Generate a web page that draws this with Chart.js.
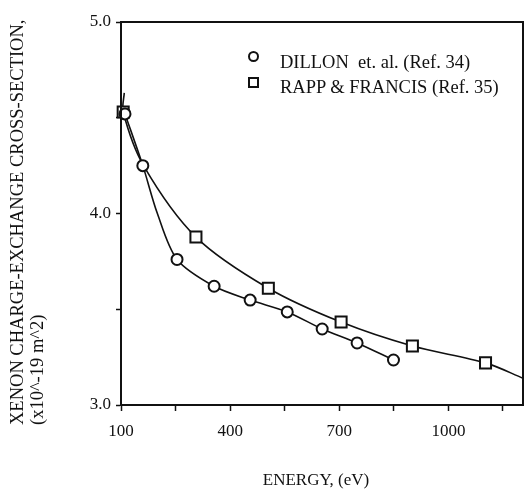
<!DOCTYPE html>
<html>
<head>
<meta charset="utf-8">
<script src="https://cdn.jsdelivr.net/npm/chart.js@4"></script>
<style>
  html, body { margin:0; padding:0; background:#fff; }
  #wrap { position:relative; width:527px; height:492px; }
  canvas { position:absolute; left:0; top:0; }
  .txt { position:absolute; font-family:"Liberation Serif", "DejaVu Serif", serif; color:#111; white-space:nowrap; }
  #ytitle { left:7px; top:425px; font-size:18.5px; line-height:20px; transform-origin:left top; transform:rotate(-90deg); }
  #xtitle { left:316px; top:470px; font-size:17px; line-height:20px; transform:translateX(-50%); }
  .leg { font-size:18.5px; line-height:20px; left:280px; }
  .mk { position:absolute; box-sizing:border-box; border:2px solid #111; width:11px; height:11px; }
</style>
</head>
<body>
<div id="wrap">
  <canvas id="c" width="527" height="492"></canvas>
  <div class="txt" id="ytitle">XENON CHARGE-EXCHANGE CROSS-SECTION,<br>(x10^-19 m^2)</div>
  <div class="txt" id="xtitle">ENERGY, (eV)</div>
  <div class="mk" style="left:248px;top:51px;border-radius:50%;"></div>
  <div class="mk" style="left:248px;top:76.5px;"></div>
  <div class="txt leg" style="top:52px;">DILLON&nbsp; et. al. (Ref. 34)</div>
  <div class="txt leg" style="top:77px;">RAPP &amp; FRANCIS (Ref. 35)</div>
</div>
<script>
// Measured points (energy in eV, cross-section in 1e-19 m^2)
const dillonEnergy = [111, 160, 254, 356, 455, 557, 653, 749, 849];
const dillonSigma  = [4.52, 4.25, 3.76, 3.62, 3.548, 3.486, 3.397, 3.324, 3.235];
const rappEnergy   = [106, 306, 505, 705, 901, 1102];
const rappSigma    = [4.53, 3.877, 3.61, 3.433, 3.308, 3.22];

// Fitted curves
const dillonFitEnergy = [111, 160, 200, 254, 356, 455, 557, 653, 749, 849];
const dillonFitSigma  = [4.52, 4.25, 4.0, 3.76, 3.62, 3.548, 3.486, 3.397, 3.324, 3.235];
const rappFitEnergy   = [109, 106, 162, 306, 505, 705, 901, 1102, 1205];
const rappFitSigma    = [4.63, 4.53, 4.25, 3.877, 3.61, 3.433, 3.308, 3.22, 3.14];

// Axis ticks
const xTickValues = [100, 250, 400, 550, 700, 850, 1000, 1150];
const xTickLabels = ['100', '', '400', '', '700', '', '1000', ''];
const yTickValues = [3.0, 3.5, 4.0, 4.5, 5.0];
const yTickLabels = ['3.0', '', '4.0', '', '5.0'];
const xMin = 100, xMax = 1205, yMin = 3.0, yMax = 5.0;

const pts = (xs, ys) => xs.map((x, i) => ({x, y: ys[i]}));
const ink = '#111';
const font = {family: '"Liberation Serif", "DejaVu Serif", serif', size: 17};

const frame = {
  id: 'frame',
  afterDatasetsDraw(chart) {
    const a = chart.chartArea, ctx = chart.ctx;
    ctx.save();
    ctx.strokeStyle = ink; ctx.lineWidth = 2;
    ctx.strokeRect(a.left, a.top, a.right - a.left, a.bottom - a.top);
    ctx.restore();
  }
};

new Chart(document.getElementById('c'), {
  type: 'scatter',
  data: {
    datasets: [
      {label: 'DILLON et. al. (Ref. 34)', data: pts(dillonEnergy, dillonSigma), pointStyle: 'circle',
       pointRadius: 5.5, pointBorderWidth: 2, pointBackgroundColor: '#fff', pointBorderColor: ink, showLine: false},
      {label: 'RAPP & FRANCIS (Ref. 35)', data: pts(rappEnergy, rappSigma), pointStyle: 'rect',
       pointRadius: 7.8, pointBorderWidth: 2, pointBackgroundColor: '#fff', pointBorderColor: ink, showLine: false},
      {label: 'fitD', data: pts(dillonFitEnergy, dillonFitSigma), showLine: true, pointRadius: 0,
       borderColor: ink, borderWidth: 1.6, tension: 0.3, fill: false},
      {label: 'fitR', data: pts(rappFitEnergy, rappFitSigma), showLine: true, pointRadius: 0,
       borderColor: ink, borderWidth: 1.6, tension: 0.3, fill: false}
    ]
  },
  options: {
    responsive: false,
    animation: false,
    clip: false,
    layout: {autoPadding: false, padding: {top: 22, right: 4, left: 0, bottom: 0}},
    plugins: {legend: {display: false}, tooltip: {enabled: false}},
    scales: {
      x: {
        type: 'linear', min: xMin, max: xMax,
        afterBuildTicks: s => { s.ticks = xTickValues.map(v => ({value: v})); },
        afterFit: s => { s.height = 87; },
        grid: {drawOnChartArea: false, drawTicks: true, tickLength: 6, tickColor: ink, tickWidth: 1.5},
        border: {display: true, color: ink, width: 2},
        ticks: {color: ink, font, padding: 10, maxRotation: 0, autoSkip: false,
                callback: (v, i) => xTickLabels[i]}
      },
      y: {
        type: 'linear', min: yMin, max: yMax,
        afterBuildTicks: s => { s.ticks = yTickValues.map(v => ({value: v})); },
        afterFit: s => { s.width = 121; },
        grid: {drawOnChartArea: false, drawTicks: true, tickLength: 5, tickColor: ink, tickWidth: 1.5},
        border: {display: true, color: ink, width: 2},
        ticks: {color: ink, font, padding: 5, autoSkip: false,
                callback: (v, i) => yTickLabels[i]}
      }
    }
  },
  plugins: [frame]
});
</script>
</body>
</html>
